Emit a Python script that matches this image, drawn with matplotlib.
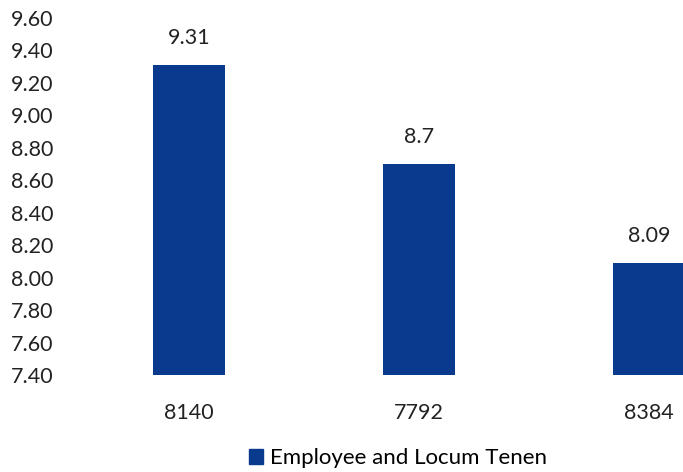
import matplotlib
matplotlib.use("Agg")
import matplotlib.pyplot as plt
from matplotlib.patches import Patch

categories = ["8140", "7792", "8384"]
values = [9.31, 8.7, 8.09]
value_labels = ["9.31", "8.7", "8.09"]
series_name = "Employee and Locum Tenen"
yticks = [7.40, 7.60, 7.80, 8.00, 8.20, 8.40, 8.60, 8.80, 9.00, 9.20, 9.40, 9.60]

color = "#0a3a8e"
plt.rcParams["font.family"] = ["Lato", "DejaVu Sans"]

W, H = 683, 472
fig = plt.figure(figsize=(W / 100, H / 100), dpi=100)
ax = fig.add_axes([74 / W, 1 - 375 / H, 690 / W, (375 - 18) / H])

x = list(range(len(categories)))
bars = ax.bar(x, [v - 7.40 for v in values], bottom=7.40, width=0.315, color=color)
ax.set_xlim(-0.5, len(categories) - 0.5)
ax.set_ylim(7.40, 9.60)
ax.set_yticks(yticks)
ax.set_yticklabels([f"{t:.2f}" for t in yticks], fontsize=15.5, color="#222222")
ax.set_xticks(x)
ax.set_xticklabels(categories, fontsize=15.5, color="#222222")
ax.tick_params(length=0)
ax.tick_params(axis="y", pad=15)
ax.tick_params(axis="x", pad=20)
for s in ax.spines.values():
    s.set_visible(False)

for xi, v, lab in zip(x, values, value_labels):
    ax.annotate(lab, (xi, v), xytext=(0, 12), textcoords="offset points",
                ha="center", va="bottom", fontsize=15.5, color="#222222")

fig.legend(handles=[Patch(color=color, label=series_name)], loc="center",
           bbox_to_anchor=(398 / W, 1 - 458 / H), frameon=False, fontsize=16,
           handlelength=0.65, handleheight=0.65, handletextpad=0.3)

fig.savefig("out.png", dpi=100)
